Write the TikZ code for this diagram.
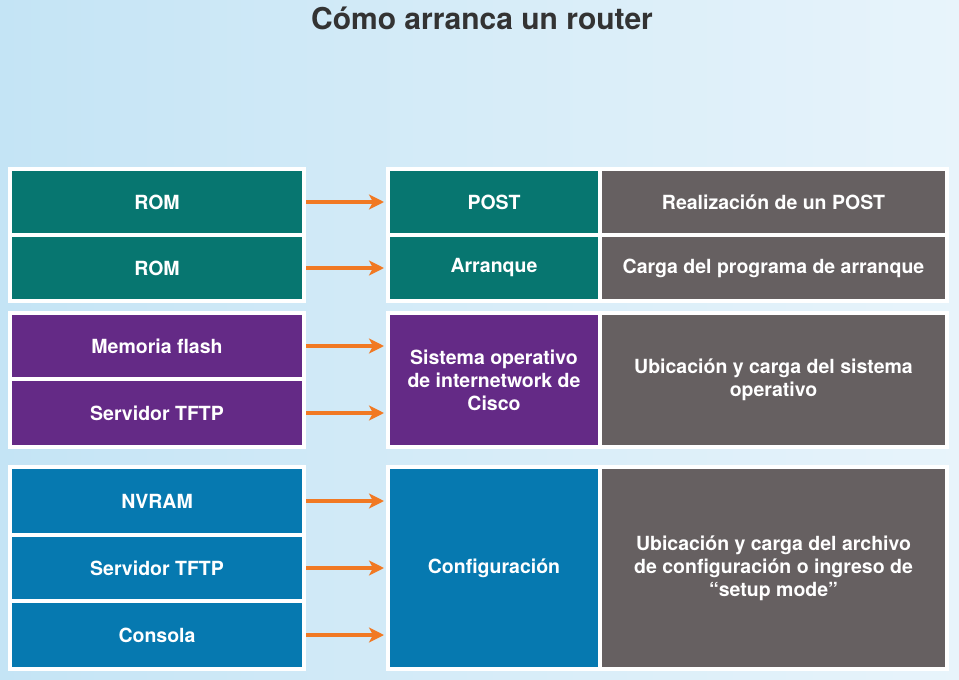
\documentclass[tikz,border=0pt]{standalone}
\usepackage{fontspec}
\setmainfont{TeX Gyre Heros}
\usetikzlibrary{positioning,arrows.meta,shadows}
\definecolor{verde}{RGB}{7,118,112}
\definecolor{morado}{RGB}{100,42,134}
\definecolor{azul}{RGB}{6,121,176}
\definecolor{gris}{RGB}{102,96,97}
\definecolor{naranja}{RGB}{241,121,35}
\definecolor{titulo}{RGB}{51,51,51}
\definecolor{fondoizq}{RGB}{196,228,245}
\definecolor{fondoder}{RGB}{232,244,251}
\begin{document}
\begin{tikzpicture}[x=1pt,y=-1pt,
    caja/.style={draw=white,line width=4pt,outer sep=0pt,inner sep=2pt,text=white,align=center,
        font=\bfseries\fontsize{19.5}{23}\selectfont,
        drop shadow={shadow xshift=1pt,shadow yshift=-2pt,opacity=0.25}},
    flecha/.style={draw=naranja,line width=3.5pt,-{Stealth[length=15pt,width=15pt,inset=4pt]},
        shorten <=2pt,shorten >=4pt}]
    \useasboundingbox (0,0) rectangle (959,680);
    \shade[left color=fondoizq,right color=fondoder] (0,0) rectangle (959,680);
    \node[anchor=base,text=titulo,font=\bfseries\fontsize{30}{36}\selectfont] (titulo) at (482,29) {Cómo arranca un router};
    % arranque
    \node[caja,fill=verde,minimum width=294,minimum height=66,anchor=north west] (rom1) at (10,169) {ROM};
    \node[caja,fill=verde,minimum width=294,minimum height=66,below=0pt of rom1] (rom2) {ROM};
    \node[caja,fill=verde,minimum width=212,minimum height=66,anchor=north west] (post) at (388,169) {POST};
    \node[caja,fill=verde,minimum width=212,minimum height=66,below=0pt of post] (arranque) {Arranque};
    \node[caja,fill=gris,minimum width=347,minimum height=66,right=0pt of post] (realiz) {Realización de un POST};
    \node[caja,fill=gris,minimum width=347,minimum height=66,right=0pt of arranque] (carga) {Carga del programa de arranque};
    % sistema operativo
    \node[caja,fill=morado,minimum width=294,minimum height=66,anchor=north west] (flash) at (10,313) {Memoria flash};
    \node[caja,fill=morado,minimum width=294,minimum height=68,below=0pt of flash] (tftp1) {Servidor TFTP};
    \node[caja,fill=morado,minimum width=212,minimum height=134,anchor=north west] (ios) at (388,313) {Sistema operativo\\de internetwork de\\Cisco};
    \node[caja,fill=gris,minimum width=347,minimum height=134,right=0pt of ios] (sisop) {Ubicación y carga del sistema\\operativo};
    % configuracion
    \node[caja,fill=azul,minimum width=294,minimum height=68,anchor=north west] (nvram) at (10,467) {NVRAM};
    \node[caja,fill=azul,minimum width=294,minimum height=66,below=0pt of nvram] (tftp2) {Servidor TFTP};
    \node[caja,fill=azul,minimum width=294,minimum height=68,below=0pt of tftp2] (consola) {Consola};
    \node[caja,fill=azul,minimum width=212,minimum height=202,anchor=north west] (config) at (388,467) {Configuración};
    \node[caja,fill=gris,minimum width=347,minimum height=202,right=0pt of config] (archivo) {Ubicación y carga del archivo\\de configuración o ingreso de\\“setup mode”};
    \foreach \a/\b in {rom1/post,rom2/arranque,flash/ios,tftp1/ios,nvram/config,tftp2/config,consola/config}
        \draw[flecha] (\a.east) -- (\a.east -| \b.west);
\end{tikzpicture}
\end{document}
